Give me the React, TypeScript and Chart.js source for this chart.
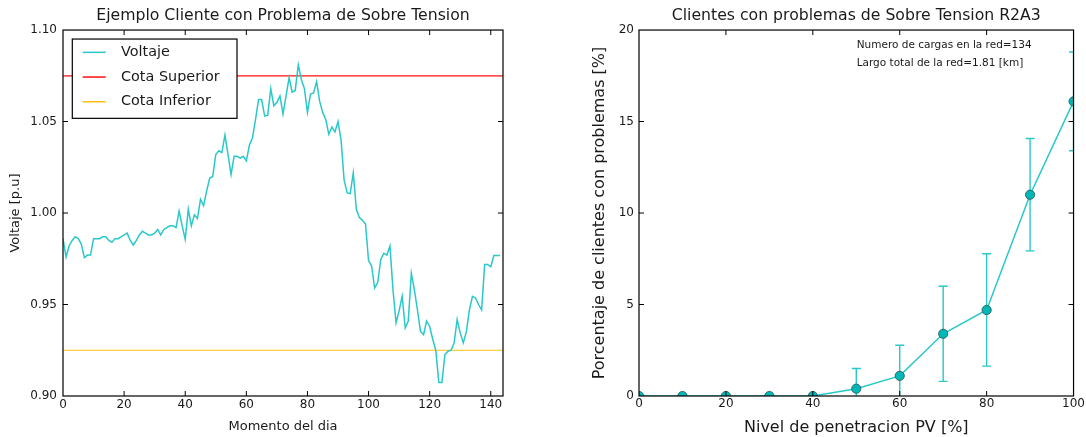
import React, { useEffect, useRef } from "react";
import { Chart, registerables } from "chart.js";

Chart.register(...registerables);

// ---------------- data ----------------
const voltage = [
  0.986, 0.976, 0.982, 0.985, 0.987, 0.986, 0.983, 0.9756, 0.977, 0.977,
  0.986, 0.986, 0.986, 0.987, 0.987, 0.985, 0.984, 0.986, 0.986, 0.987,
  0.988, 0.989, 0.985, 0.9825, 0.985, 0.988, 0.99, 0.989, 0.988, 0.988,
  0.989, 0.991, 0.988, 0.991, 0.992, 0.993, 0.993, 0.992, 1.001, 0.993,
  0.9856, 1.002, 0.993, 0.999, 0.997, 1.0075, 1.004, 1.012, 1.019, 1.02,
  1.032, 1.034, 1.033, 1.0426, 1.032, 1.021, 1.031, 1.031, 1.03, 1.031,
  1.0285, 1.037, 1.041, 1.051, 1.062, 1.062, 1.053, 1.0535, 1.068, 1.0586,
  1.0605, 1.064, 1.0541, 1.064, 1.074, 1.066, 1.067, 1.081, 1.073, 1.068,
  1.055, 1.065, 1.0656, 1.0718, 1.061, 1.055, 1.051, 1.043, 1.047, 1.0443,
  1.05, 1.04, 1.018, 1.011, 1.0106, 1.022, 1.002, 0.9975, 0.996, 0.994,
  0.974, 0.971, 0.959, 0.962, 0.9746, 0.978, 0.977, 0.982, 0.958, 0.94,
  0.9465, 0.9545, 0.9372, 0.941, 0.967, 0.958, 0.947, 0.9353, 0.9335, 0.941,
  0.938, 0.931, 0.925, 0.9074, 0.9074, 0.9227, 0.9245, 0.925, 0.929, 0.9418,
  0.9345, 0.929, 0.935, 0.947, 0.9545, 0.9536, 0.95, 0.947, 0.9719, 0.9719,
  0.9706, 0.9768, 0.9768, 0.9768,
];
const upperLimit = 1.075;
const lowerLimit = 0.925;
const leftXMax = 144;
const leftXTicks = [0, 20, 40, 60, 80, 100, 120, 140];
const leftYTicks = [0.9, 0.95, 1.0, 1.05, 1.1];

const penetration = [0, 10, 20, 30, 40, 50, 60, 70, 80, 90, 100];
const pctClients = [0, 0, 0, 0, 0, 0.4, 1.1, 3.4, 4.7, 11.0, 16.1];
const pctError = [0, 0, 0, 0, 0, 1.1, 1.67, 2.6, 3.07, 3.07, 2.7];
const rightXTicks = [0, 20, 40, 60, 80, 100];
const rightYTicks = [0, 5, 10, 15, 20];
const notes = ["Numero de cargas en la red=134", "Largo total de la red=1.81 [km]"];

// ---------------- styles ----------------
const FONT = "'DejaVu Sans', sans-serif";
const TEXT = "#1a1a1a";
const TEAL = "#2ac8c8";

const framePlugin = {
  id: "frameTicks",
  afterDatasetsDraw(chart: any) {
    const { ctx, chartArea: a, scales } = chart;
    const tl = 5;
    ctx.save();
    ctx.strokeStyle = "#000";
    ctx.lineWidth = 1;
    ctx.beginPath();
    scales.x.ticks.forEach((t: any) => {
      const px = scales.x.getPixelForValue(t.value);
      if (px <= a.left + 0.5 || px >= a.right - 0.5) return;
      ctx.moveTo(px, a.bottom);
      ctx.lineTo(px, a.bottom - tl);
      ctx.moveTo(px, a.top);
      ctx.lineTo(px, a.top + tl);
    });
    scales.y.ticks.forEach((t: any) => {
      const py = scales.y.getPixelForValue(t.value);
      if (py <= a.top + 0.5 || py >= a.bottom - 0.5) return;
      ctx.moveTo(a.left, py);
      ctx.lineTo(a.left + tl, py);
      ctx.moveTo(a.right, py);
      ctx.lineTo(a.right - tl, py);
    });
    ctx.stroke();
    ctx.lineWidth = 1.2;
    ctx.strokeRect(a.left, a.top, a.right - a.left, a.bottom - a.top);
    ctx.restore();
  },
};

const legendPlugin = {
  id: "boxLegend",
  afterDraw(chart: any) {
    const { ctx, chartArea: a } = chart;
    const x0 = a.left + 9.3;
    const y0 = a.top + 9;
    const w = 164.7;
    const h = 79.3;
    ctx.save();
    ctx.fillStyle = "#fff";
    ctx.fillRect(x0, y0, w, h);
    ctx.strokeStyle = "#000";
    ctx.lineWidth = 1.2;
    ctx.strokeRect(x0, y0, w, h);
    ctx.font = `14.4px ${FONT}`;
    ctx.textBaseline = "middle";
    chart.data.datasets.forEach((ds: any, i: number) => {
      const yy = y0 + 13.3 + i * 24.7;
      ctx.strokeStyle = ds.borderColor;
      ctx.lineWidth = 1.5;
      ctx.beginPath();
      ctx.moveTo(x0 + 10.4, yy);
      ctx.lineTo(x0 + 33.4, yy);
      ctx.stroke();
      ctx.fillStyle = TEXT;
      ctx.fillText(ds.label, x0 + 48.7, yy);
    });
    ctx.restore();
  },
};

const errorBarPlugin = {
  id: "errorBars",
  beforeDatasetsDraw(chart: any) {
    const { ctx, chartArea: a, scales } = chart;
    const { x, y } = scales;
    ctx.save();
    ctx.beginPath();
    ctx.rect(a.left, a.top, a.right - a.left, a.bottom - a.top);
    ctx.clip();
    ctx.strokeStyle = TEAL;
    ctx.lineWidth = 1.4;
    penetration.forEach((p, i) => {
      const e = pctError[i];
      if (!e) return;
      const px = x.getPixelForValue(p);
      const top = y.getPixelForValue(pctClients[i] + e);
      const bot = y.getPixelForValue(pctClients[i] - e);
      ctx.beginPath();
      ctx.moveTo(px, top);
      ctx.lineTo(px, bot);
      ctx.moveTo(px - 4.5, top);
      ctx.lineTo(px + 4.5, top);
      ctx.moveTo(px - 4.5, bot);
      ctx.lineTo(px + 4.5, bot);
      ctx.stroke();
    });
    ctx.restore();
  },
};

const notesPlugin = {
  id: "notes",
  afterDraw(chart: any) {
    const { ctx, chartArea: a } = chart;
    ctx.save();
    ctx.font = `10.5px ${FONT}`;
    ctx.fillStyle = TEXT;
    ctx.textBaseline = "middle";
    notes.forEach((t, i) => ctx.fillText(t, a.left + 217.7, a.top + 15 + i * 18.3));
    ctx.restore();
  },
};

function axis(opts: any) {
  const { ticks, min, max, fmt, titleText, titleSize, titlePad, tickPad, fit, horizontal } = opts;
  return {
    type: "linear",
    min,
    max,
    grid: { display: false, drawTicks: false },
    border: { display: false },
    ticks: {
      font: { family: FONT, size: 12 },
      color: TEXT,
      padding: tickPad,
      maxRotation: 0,
      autoSkip: false,
      callback: (v: any) => fmt(Number(v)),
    },
    afterBuildTicks: (s: any) => {
      s.ticks = ticks.map((value: number) => ({ value }));
    },
    afterFit: (s: any) => {
      if (horizontal) s.height = fit;
      else s.width = fit;
    },
    title: {
      display: true,
      text: titleText,
      color: TEXT,
      font: { family: FONT, size: titleSize },
      padding: titlePad,
    },
  };
}

function leftConfig(): any {
  return {
    type: "line",
    data: {
      datasets: [
        {
          label: "Voltaje",
          data: voltage.map((v, i) => ({ x: i, y: v })),
          borderColor: TEAL,
          borderWidth: 1.5,
          pointRadius: 0,
          tension: 0,
        },
        {
          label: "Cota Superior",
          data: [
            { x: 0, y: upperLimit },
            { x: leftXMax, y: upperLimit },
          ],
          borderColor: "#ff1010",
          borderWidth: 1.2,
          pointRadius: 0,
        },
        {
          label: "Cota Inferior",
          data: [
            { x: 0, y: lowerLimit },
            { x: leftXMax, y: lowerLimit },
          ],
          borderColor: "#ffc010",
          borderWidth: 1.2,
          pointRadius: 0,
        },
      ],
    },
    options: {
      animation: false,
      responsive: false,
      layout: { padding: { left: 0, right: 40, top: 0, bottom: 0 }, autoPadding: false },
      plugins: {
        legend: { display: false },
        tooltip: { enabled: false },
        title: {
          display: true,
          fullSize: false,
          text: "Ejemplo Cliente con Problema de Sobre Tension",
          color: TEXT,
          font: { family: FONT, size: 15.7, weight: "normal" },
          padding: { top: 7, bottom: 4.2 },
        },
      },
      scales: {
        x: axis({
          ticks: leftXTicks,
          min: 0,
          max: leftXMax,
          fmt: (v: number) => String(v),
          titleText: "Momento del dia",
          titleSize: 13,
          titlePad: { top: 0, bottom: 2.5 },
          tickPad: 2,
          fit: 41,
          horizontal: true,
        }),
        y: axis({
          ticks: leftYTicks,
          min: 0.9,
          max: 1.1,
          fmt: (v: number) => v.toFixed(2),
          titleText: "Voltaje [p.u]",
          titleSize: 13,
          titlePad: { top: 8.2, bottom: 0 },
          tickPad: 6,
          fit: 63,
          horizontal: false,
        }),
      },
    },
    plugins: [framePlugin, legendPlugin],
  };
}

function rightConfig(): any {
  return {
    type: "line",
    data: {
      datasets: [
        {
          label: "Clientes con problemas",
          data: penetration.map((p, i) => ({ x: p, y: pctClients[i] })),
          borderColor: TEAL,
          borderWidth: 1.5,
          pointRadius: 4.6,
          pointBackgroundColor: "#00b8b8",
          pointBorderColor: "#2f5e5e",
          pointBorderWidth: 0.9,
          tension: 0,
          clip: 0,
        },
      ],
    },
    options: {
      animation: false,
      responsive: false,
      layout: { padding: { left: 0, right: 9, top: 0, bottom: 0 }, autoPadding: false },
      plugins: {
        legend: { display: false },
        tooltip: { enabled: false },
        title: {
          display: true,
          fullSize: false,
          text: "Clientes con problemas de Sobre Tension R2A3",
          color: TEXT,
          font: { family: FONT, size: 15.7, weight: "normal" },
          padding: { top: 7, bottom: 4.2 },
        },
      },
      scales: {
        x: axis({
          ticks: rightXTicks,
          min: 0,
          max: 100,
          fmt: (v: number) => String(v),
          titleText: "Nivel de penetracion PV [%]",
          titleSize: 16,
          titlePad: { top: 0, bottom: 0 },
          tickPad: 1,
          fit: 41,
          horizontal: true,
        }),
        y: axis({
          ticks: rightYTicks,
          min: 0,
          max: 20,
          fmt: (v: number) => String(v),
          titleText: "Porcentaje de clientes con problemas [%]",
          titleSize: 16,
          titlePad: { top: 47.4, bottom: 0 },
          tickPad: 5,
          fit: 96,
          horizontal: false,
        }),
      },
    },
    plugins: [errorBarPlugin, framePlugin, notesPlugin],
  };
}

export default function App() {
  const leftRef = useRef<HTMLCanvasElement>(null);
  const rightRef = useRef<HTMLCanvasElement>(null);

  useEffect(() => {
    const c1 = new Chart(leftRef.current as HTMLCanvasElement, leftConfig());
    const c2 = new Chart(rightRef.current as HTMLCanvasElement, rightConfig());
    return () => {
      c1.destroy();
      c2.destroy();
    };
  }, []);

  return (
    <div
      style={{
        position: "absolute",
        left: 0,
        top: 0,
        width: 1086,
        height: 437,
        overflow: "hidden",
        background: "#fff",
      }}
    >
      <canvas
        ref={leftRef}
        width={543}
        height={437}
        style={{ position: "absolute", left: 0, top: 0, width: 543, height: 437 }}
      />
      <canvas
        ref={rightRef}
        width={543}
        height={437}
        style={{ position: "absolute", left: 543, top: 0, width: 543, height: 437 }}
      />
    </div>
  );
}
